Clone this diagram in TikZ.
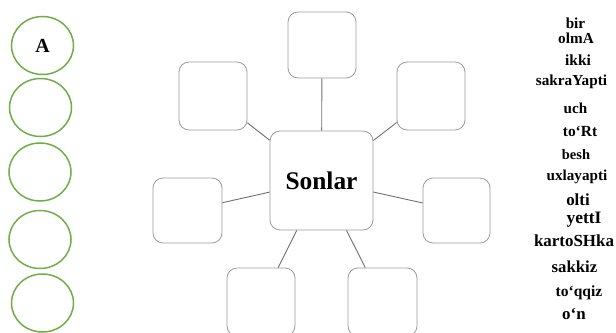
\documentclass[tikz,border=0pt]{standalone}
\usepackage{fontspec}
\setmainfont{Liberation Serif}
\usetikzlibrary{shapes.geometric}
\definecolor{ringgreen}{RGB}{112,173,71}
\definecolor{boxgray}{RGB}{155,155,155}
\definecolor{linegray}{RGB}{110,110,110}
\tikzset{
  ring/.style={draw=ringgreen, line width=1.5bp, ellipse, minimum width=62bp, minimum height=58bp, inner sep=0pt},
  blank/.style={draw=boxgray, line width=0.8bp, rectangle, rounded corners=10bp, inner sep=0pt, fill=white},
  link/.style={draw=linegray, line width=0.9bp},
  word/.style={inner sep=0pt, font=\bfseries}
}
\begin{document}
\begin{tikzpicture}[x=1bp,y=-1bp]
\useasboundingbox (0,0) rectangle (616,332);
\clip (0,0) rectangle (616,332);
% circles
\node[ring] (c1) at (42.5,45.5) {\fontsize{20}{22}\selectfont\bfseries A};
\node[ring] (c2) at (40.5,107.5) {};
\node[ring] (c3) at (40,172) {};
\node[ring] (c4) at (40,239.5) {};
\node[ring] (c5) at (42.5,303) {};
% connectors first (behind boxes)
\coordinate (cc) at (321.5,180.5);
% boxes
\node[blank, minimum width=103bp, minimum height=99bp] (c) at (321.5,180.5) {\fontsize{25.5}{28}\selectfont\bfseries Sonlar};
\node[blank, minimum width=68bp, minimum height=66bp] (t) at (322,45) {};
\node[blank, minimum width=68bp, minimum height=68bp] (ul) at (213,96) {};
\node[blank, minimum width=68bp, minimum height=68bp] (ur) at (431,96) {};
\node[blank, minimum width=69bp, minimum height=65bp] (l) at (187.5,210.5) {};
\node[blank, minimum width=67bp, minimum height=65bp] (r) at (456.5,210.5) {};
\node[blank, minimum width=68bp, minimum height=68bp] (bl) at (261,302) {};
\node[blank, minimum width=69bp, minimum height=68bp] (br) at (382.5,302) {};
\draw[link] (t) -- (c);
\draw[link] (ul) -- (c);
\draw[link] (ur) -- (c);
\draw[link] (l) -- (c);
\draw[link] (r) -- (c);
\draw[link] (bl) -- (c);
\draw[link] (br) -- (c);
% words
\node[word] (w1) at (575.5,23) {\fontsize{15.3}{16}\selectfont bir};
\node[word] (w2) at (576,38) {\fontsize{15.3}{16}\selectfont olmA};
\node[word] (w3) at (578,60) {\fontsize{15.5}{16}\selectfont ikki};
\node[word] (w4) at (571.5,82) {\fontsize{15.3}{16}\selectfont sakraYapti};
\node[word] (w5) at (575.5,108) {\fontsize{15.2}{16}\selectfont uch};
\node[word] (w6) at (580,131.5) {\fontsize{15.5}{16}\selectfont to‘Rt};
\node[word] (w7) at (576,155) {\fontsize{14.5}{16}\selectfont besh};
\node[word] (w8) at (577,177) {\fontsize{15.2}{16}\selectfont uxlayapti};
\node[word] (w9) at (578,200) {\fontsize{17}{18}\selectfont olti};
\node[word] (w10) at (584,220) {\fontsize{17.5}{18}\selectfont yettI};
\node[word] (w11) at (574,241) {\fontsize{17}{18}\selectfont kartoSHka};
\node[word] (w12) at (574.5,267) {\fontsize{16.8}{18}\selectfont sakkiz};
\node[word] (w13) at (579,293) {\fontsize{15.6}{16}\selectfont to‘qqiz};
\node[word] (w14) at (574,314) {\fontsize{17}{18}\selectfont o‘n};
\end{tikzpicture}
\end{document}
